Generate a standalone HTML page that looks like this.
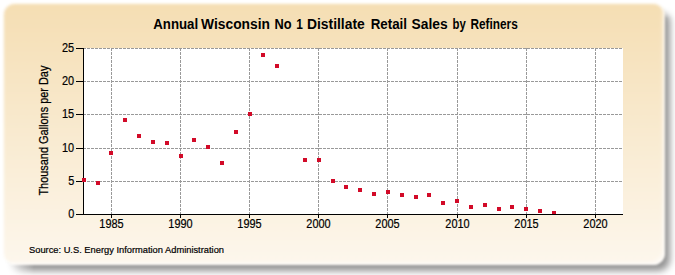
<!DOCTYPE html>
<html><head><meta charset="utf-8"><style>
html,body{margin:0;padding:0;width:675px;height:275px;overflow:hidden;background:#ffffff;position:relative;}
#shwrap{position:absolute;left:0;top:0;width:675px;height:275px;-webkit-mask-image:linear-gradient(to right,transparent 4px,#000 34px),linear-gradient(to bottom,transparent 5px,#000 18px);-webkit-mask-composite:source-in;mask-image:linear-gradient(to right,transparent 4px,#000 34px),linear-gradient(to bottom,transparent 5px,#000 18px);mask-composite:intersect;}
#shadow{position:absolute;left:9px;top:10px;width:661px;height:261px;border-radius:12px;background:rgba(0,0,0,0.42);filter:blur(3.5px);}
#panel{position:absolute;left:3px;top:3px;width:662px;height:262px;border-radius:12px;
background:linear-gradient(to bottom,#f5deb3 0%,#fdf7ed 100%);filter:blur(0.9px);box-shadow:inset 0 0 0 1.5px rgba(255,255,255,0.6), inset -4px -4px 3px -1px rgba(255,255,255,0.45);}
svg{position:absolute;left:0;top:0;}
text{font-family:"Liberation Sans",sans-serif;fill:#000;}
.tk{font-size:12px;stroke:#000;stroke-width:0.2px;}
.yt{font-size:12px;stroke:#000;stroke-width:0.25px;}
.tt{font-size:14px;font-weight:bold;}
.src{font-size:9.5px;stroke:#000;stroke-width:0.2px;}
</style></head><body>
<div id="shwrap"><div id="shadow"></div></div>
<div id="panel"></div>
<svg width="675" height="275" viewBox="0 0 675 275" shape-rendering="crispEdges">
<rect x="84" y="48" width="539" height="166" fill="#ffffff"/>
<line x1="83" y1="48.5" x2="623" y2="48.5" stroke="#999999" stroke-width="1" stroke-dasharray="3,1"/>
<line x1="83" y1="81.5" x2="623" y2="81.5" stroke="#999999" stroke-width="1" stroke-dasharray="3,1"/>
<line x1="83" y1="114.5" x2="623" y2="114.5" stroke="#999999" stroke-width="1" stroke-dasharray="3,1"/>
<line x1="83" y1="148.5" x2="623" y2="148.5" stroke="#999999" stroke-width="1" stroke-dasharray="3,1"/>
<line x1="83" y1="181.5" x2="623" y2="181.5" stroke="#999999" stroke-width="1" stroke-dasharray="3,1"/>
<line x1="111.5" y1="48" x2="111.5" y2="214" stroke="#999999" stroke-width="1" stroke-dasharray="3,1"/>
<line x1="180.5" y1="48" x2="180.5" y2="214" stroke="#999999" stroke-width="1" stroke-dasharray="3,1"/>
<line x1="249.5" y1="48" x2="249.5" y2="214" stroke="#999999" stroke-width="1" stroke-dasharray="3,1"/>
<line x1="318.5" y1="48" x2="318.5" y2="214" stroke="#999999" stroke-width="1" stroke-dasharray="3,1"/>
<line x1="387.5" y1="48" x2="387.5" y2="214" stroke="#999999" stroke-width="1" stroke-dasharray="3,1"/>
<line x1="457.5" y1="48" x2="457.5" y2="214" stroke="#999999" stroke-width="1" stroke-dasharray="3,1"/>
<line x1="526.5" y1="48" x2="526.5" y2="214" stroke="#999999" stroke-width="1" stroke-dasharray="3,1"/>
<line x1="595.5" y1="48" x2="595.5" y2="214" stroke="#999999" stroke-width="1" stroke-dasharray="3,1"/>
<rect x="83" y="48" width="1" height="167" fill="#000"/>
<rect x="76" y="214" width="7" height="1" fill="#000"/>
<rect x="76" y="181" width="7" height="1" fill="#000"/>
<rect x="76" y="148" width="7" height="1" fill="#000"/>
<rect x="76" y="114" width="7" height="1" fill="#000"/>
<rect x="76" y="81" width="7" height="1" fill="#000"/>
<rect x="76" y="48" width="7" height="1" fill="#000"/>
<rect x="111" y="214" width="1" height="4" fill="#000"/>
<rect x="180" y="214" width="1" height="4" fill="#000"/>
<rect x="249" y="214" width="1" height="4" fill="#000"/>
<rect x="318" y="214" width="1" height="4" fill="#000"/>
<rect x="387" y="214" width="1" height="4" fill="#000"/>
<rect x="457" y="214" width="1" height="4" fill="#000"/>
<rect x="526" y="214" width="1" height="4" fill="#000"/>
<rect x="595" y="214" width="1" height="4" fill="#000"/>
<rect x="82" y="178" width="4" height="4" fill="#d20a28"/>
<rect x="96" y="181" width="4" height="4" fill="#d20a28"/>
<rect x="109" y="151" width="4" height="4" fill="#d20a28"/>
<rect x="123" y="118" width="4" height="4" fill="#d20a28"/>
<rect x="137" y="134" width="4" height="4" fill="#d20a28"/>
<rect x="151" y="140" width="4" height="4" fill="#d20a28"/>
<rect x="165" y="141" width="4" height="4" fill="#d20a28"/>
<rect x="179" y="154" width="4" height="4" fill="#d20a28"/>
<rect x="192" y="138" width="4" height="4" fill="#d20a28"/>
<rect x="206" y="145" width="4" height="4" fill="#d20a28"/>
<rect x="220" y="161" width="4" height="4" fill="#d20a28"/>
<rect x="234" y="130" width="4" height="4" fill="#d20a28"/>
<rect x="248" y="112" width="4" height="4" fill="#d20a28"/>
<rect x="261" y="53" width="4" height="4" fill="#d20a28"/>
<rect x="275" y="64" width="4" height="4" fill="#d20a28"/>
<rect x="303" y="158" width="4" height="4" fill="#d20a28"/>
<rect x="317" y="158" width="4" height="4" fill="#d20a28"/>
<rect x="331" y="179" width="4" height="4" fill="#d20a28"/>
<rect x="344" y="185" width="4" height="4" fill="#d20a28"/>
<rect x="358" y="188" width="4" height="4" fill="#d20a28"/>
<rect x="372" y="192" width="4" height="4" fill="#d20a28"/>
<rect x="386" y="190" width="4" height="4" fill="#d20a28"/>
<rect x="400" y="193" width="4" height="4" fill="#d20a28"/>
<rect x="414" y="195" width="4" height="4" fill="#d20a28"/>
<rect x="427" y="193" width="4" height="4" fill="#d20a28"/>
<rect x="441" y="201" width="4" height="4" fill="#d20a28"/>
<rect x="455" y="199" width="4" height="4" fill="#d20a28"/>
<rect x="469" y="205" width="4" height="4" fill="#d20a28"/>
<rect x="483" y="203" width="4" height="4" fill="#d20a28"/>
<rect x="497" y="207" width="4" height="4" fill="#d20a28"/>
<rect x="510" y="205" width="4" height="4" fill="#d20a28"/>
<rect x="524" y="207" width="4" height="4" fill="#d20a28"/>
<rect x="538" y="209" width="4" height="4" fill="#d20a28"/>
<rect x="552" y="211" width="4" height="4" fill="#d20a28"/>
<rect x="76" y="214" width="547" height="1" fill="#000"/>
<text x="74.2" y="217.5" text-anchor="end" class="tk" textLength="6.07" lengthAdjust="spacingAndGlyphs">0</text>
<text x="74.2" y="184.5" text-anchor="end" class="tk" textLength="6.07" lengthAdjust="spacingAndGlyphs">5</text>
<text x="74.2" y="151.5" text-anchor="end" class="tk" textLength="12.14" lengthAdjust="spacingAndGlyphs">10</text>
<text x="74.2" y="117.5" text-anchor="end" class="tk" textLength="12.14" lengthAdjust="spacingAndGlyphs">15</text>
<text x="74.2" y="84.5" text-anchor="end" class="tk" textLength="12.14" lengthAdjust="spacingAndGlyphs">20</text>
<text x="74.2" y="51.5" text-anchor="end" class="tk" textLength="12.14" lengthAdjust="spacingAndGlyphs">25</text>
<text x="111.5" y="227.5" text-anchor="middle" class="tk" textLength="24.29" lengthAdjust="spacingAndGlyphs">1985</text>
<text x="180.5" y="227.5" text-anchor="middle" class="tk" textLength="24.29" lengthAdjust="spacingAndGlyphs">1990</text>
<text x="249.5" y="227.5" text-anchor="middle" class="tk" textLength="24.29" lengthAdjust="spacingAndGlyphs">1995</text>
<text x="318.5" y="227.5" text-anchor="middle" class="tk" textLength="24.29" lengthAdjust="spacingAndGlyphs">2000</text>
<text x="387.5" y="227.5" text-anchor="middle" class="tk" textLength="24.29" lengthAdjust="spacingAndGlyphs">2005</text>
<text x="457.5" y="227.5" text-anchor="middle" class="tk" textLength="24.29" lengthAdjust="spacingAndGlyphs">2010</text>
<text x="526.5" y="227.5" text-anchor="middle" class="tk" textLength="24.29" lengthAdjust="spacingAndGlyphs">2015</text>
<text x="595.5" y="227.5" text-anchor="middle" class="tk" textLength="24.29" lengthAdjust="spacingAndGlyphs">2020</text>
<text x="0" y="0" transform="translate(47.5,130.6) rotate(-90)" text-anchor="middle" class="yt" textLength="130" lengthAdjust="spacingAndGlyphs">Thousand Gallons per Day</text>
<text x="153.30" y="29" class="tt" textLength="44.84" lengthAdjust="spacingAndGlyphs">Annual</text>
<text x="201.10" y="29" class="tt" textLength="68.88" lengthAdjust="spacingAndGlyphs">Wisconsin</text>
<text x="274.40" y="29" class="tt" textLength="17.07" lengthAdjust="spacingAndGlyphs">No</text>
<text x="296.19" y="29" class="tt" textLength="6.62" lengthAdjust="spacingAndGlyphs">1</text>
<text x="307.00" y="29" class="tt" textLength="57.75" lengthAdjust="spacingAndGlyphs">Distillate</text>
<text x="370.70" y="29" class="tt" textLength="36.32" lengthAdjust="spacingAndGlyphs">Retail</text>
<text x="411.50" y="29" class="tt" textLength="36.08" lengthAdjust="spacingAndGlyphs">Sales</text>
<text x="452.60" y="29" class="tt" textLength="13.25" lengthAdjust="spacingAndGlyphs">by</text>
<text x="470.40" y="29" class="tt" textLength="47.32" lengthAdjust="spacingAndGlyphs">Refiners</text>
<text x="29" y="253.3" class="src" textLength="195" lengthAdjust="spacingAndGlyphs">Source: U.S. Energy Information Administration</text>
</svg>
</body></html>
